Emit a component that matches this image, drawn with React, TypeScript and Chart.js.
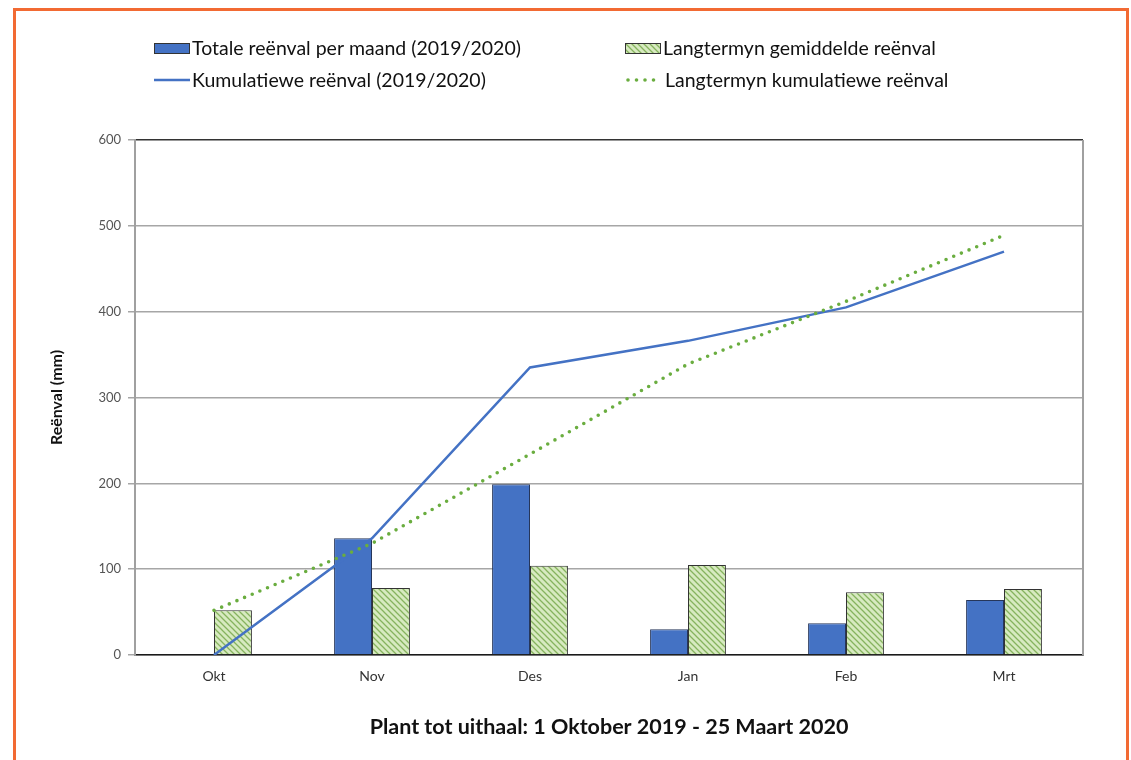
import React, { useEffect, useRef } from "react";
import { Chart, registerables } from "chart.js";

Chart.register(...registerables);

// Months of the growing season
const months = ["Okt", "Nov", "Des", "Jan", "Feb", "Mrt"];

// Monthly rainfall 2019/2020 (mm)
const monthlyRain = [1, 136, 199, 30, 37, 64];
// Long-term average monthly rainfall (mm)
const longTermMonthly = [52, 78, 104, 105, 73, 77];
// Cumulative rainfall 2019/2020 (mm)
const cumulativeRain = [0, 136, 335, 366, 405, 470];
// Long-term cumulative rainfall (mm)
const longTermCumulative = [52, 130, 234, 339, 412, 489];

const yTicks = [0, 100, 200, 300, 400, 500, 600];

const seriesNames = [
  "Totale reënval per maand (2019/2020)",
  "Langtermyn gemiddelde reënval",
  "Kumulatiewe reënval (2019/2020)",
  "Langtermyn kumulatiewe reënval",
];

const BLUE = "#4472c4";
const GREEN_LINE = "#6aad3f";
const FONT = "Lato, 'Open Sans', sans-serif";

function makeHatch(): CanvasPattern | string {
  const size = 6;
  const c = document.createElement("canvas");
  c.width = size;
  c.height = size;
  const g = c.getContext("2d");
  if (!g) return "#cfe5b5";
  g.fillStyle = "#d7eac0";
  g.fillRect(0, 0, size, size);
  g.strokeStyle = "#86b35e";
  g.lineWidth = 1.3;
  g.beginPath();
  g.moveTo(-1, -1);
  g.lineTo(size + 1, size + 1);
  g.moveTo(-1, size - 1);
  g.lineTo(1, size + 1);
  g.moveTo(size - 1, -1);
  g.lineTo(size + 1, 1);
  g.stroke();
  return g.createPattern(c, "repeat") || "#cfe5b5";
}

export default function App() {
  const canvasRef = useRef<HTMLCanvasElement | null>(null);

  useEffect(() => {
    const canvas = canvasRef.current;
    if (!canvas) return;
    const hatch = makeHatch();

    // Right edge of the plot frame
    const frame = {
      id: "frame",
      afterDatasetsDraw(chart: any) {
        const { ctx, chartArea } = chart;
        ctx.save();
        ctx.strokeStyle = "#a0a0a0";
        ctx.lineWidth = 2;
        ctx.beginPath();
        ctx.moveTo(chartArea.right, chartArea.top);
        ctx.lineTo(chartArea.right, chartArea.bottom);
        ctx.stroke();
        ctx.restore();
      },
    };

    // Two-column legend above the plot
    const legend = {
      id: "twoColLegend",
      afterDraw(chart: any) {
        const ctx = chart.ctx as CanvasRenderingContext2D;
        const cols = [154, 625];
        const rows = [48, 80];
        ctx.save();
        ctx.font = `19.5px ${FONT}`;
        ctx.fillStyle = "#111";
        ctx.textBaseline = "middle";
        const kinds = ["bar", "bar", "line", "dots"];
        [0, 1, 2, 3].forEach((i) => {
          const col = cols[i % 2];
          const row = rows[Math.floor(i / 2)];
          const ds = chart.data.datasets[i];
          if (kinds[i] === "bar") {
            ctx.fillStyle = ds.backgroundColor;
            ctx.fillRect(col, row - 5, 36, 11);
            ctx.strokeStyle = "#333";
            ctx.lineWidth = 1;
            ctx.strokeRect(col + 0.5, row - 4.5, 35, 10);
          } else if (kinds[i] === "line") {
            ctx.strokeStyle = BLUE;
            ctx.lineWidth = 2.5;
            ctx.beginPath();
            ctx.moveTo(col, row);
            ctx.lineTo(col + 36, row);
            ctx.stroke();
          } else {
            ctx.fillStyle = GREEN_LINE;
            for (let k = 0; k < 4; k++) {
              ctx.beginPath();
              ctx.arc(col + 3 + k * 8.5, row, 1.8, 0, Math.PI * 2);
              ctx.fill();
            }
          }
          ctx.fillStyle = "#111";
          ctx.fillText(seriesNames[i], col + (kinds[i] === "dots" ? 40 : 38), row + 1);
        });
        ctx.restore();
      },
    };

    const chart = new Chart(canvas, {
      type: "bar",
      data: {
        labels: months,
        datasets: [
          {
            type: "bar",
            label: seriesNames[0],
            data: monthlyRain,
            backgroundColor: BLUE,
            borderColor: "#26365a",
            borderWidth: 1,
            categoryPercentage: 0.48,
            barPercentage: 1,
            order: 2,
          },
          {
            type: "bar",
            label: seriesNames[1],
            data: longTermMonthly,
            backgroundColor: hatch as any,
            borderColor: "#333",
            borderWidth: 1,
            categoryPercentage: 0.48,
            barPercentage: 1,
            order: 3,
          },
          {
            type: "line",
            label: seriesNames[2],
            data: cumulativeRain,
            borderColor: BLUE,
            borderWidth: 2.5,
            pointRadius: 0,
            tension: 0,
            fill: false,
            order: 1,
          },
          {
            type: "line",
            label: seriesNames[3],
            data: longTermCumulative,
            borderColor: GREEN_LINE,
            borderWidth: 3.6,
            borderDash: [0, 8.3],
            borderCapStyle: "round",
            pointRadius: 0,
            tension: 0,
            fill: false,
            order: 0,
          },
        ],
      },
      options: {
        responsive: false,
        animation: false,
        events: [],
        layout: { padding: { top: 140, left: 20, right: 48, bottom: 0 } },
        plugins: {
          legend: { display: false },
          tooltip: { enabled: false },
        },
        scales: {
          x: {
            grid: { display: false, drawTicks: false },
            border: { display: true, color: "#1a1a1a", width: 1.5 },
            ticks: {
              font: { family: FONT, size: 14 },
              color: "#333",
              padding: 13,
            },
            title: {
              display: true,
              text: "Plant tot uithaal: 1 Oktober 2019 - 25 Maart 2020",
              font: { family: FONT, size: 21.5, weight: "bold" },
              color: "#111",
              padding: { top: 0, bottom: 20 },
            },
            afterFit(scale: any) {
              scale.height = 105;
            },
          },
          y: {
            min: 0,
            max: 600,
            afterBuildTicks(scale: any) {
              scale.ticks = yTicks.map((v) => ({ value: v }));
            },
            grid: {
              color: (c: any) =>
                c.tick && c.tick.value === 600 ? "#333" : "#a6a6a6",
              lineWidth: 1.5,
              tickLength: 7,
              tickColor: "#a6a6a6",
            },
            border: { display: true, color: "#a0a0a0", width: 2 },
            ticks: {
              font: { family: FONT, size: 13 },
              color: "#555",
              padding: 7,
            },
            title: {
              display: true,
              text: "Reënval (mm)",
              font: { family: FONT, size: 16, weight: "bold" },
              color: "#111",
              padding: { top: 27, bottom: 0 },
            },
            afterFit(scale: any) {
              scale.width = 115;
            },
          },
        },
      },
      plugins: [frame, legend],
    });

    return () => chart.destroy();
  }, []);

  return (
    <div
      style={{
        position: "fixed",
        left: 0,
        top: 0,
        width: 1131,
        height: 760,
        overflow: "hidden",
        background: "#fff",
      }}
    >
      <div
        style={{
          position: "absolute",
          left: 13,
          top: 8,
          width: 1116,
          height: 800,
          border: "3px solid #f26a33",
          boxSizing: "border-box",
        }}
      />
      <canvas
        ref={canvasRef}
        width={1131}
        height={760}
        style={{ position: "absolute", left: 0, top: 0 }}
      />
    </div>
  );
}
